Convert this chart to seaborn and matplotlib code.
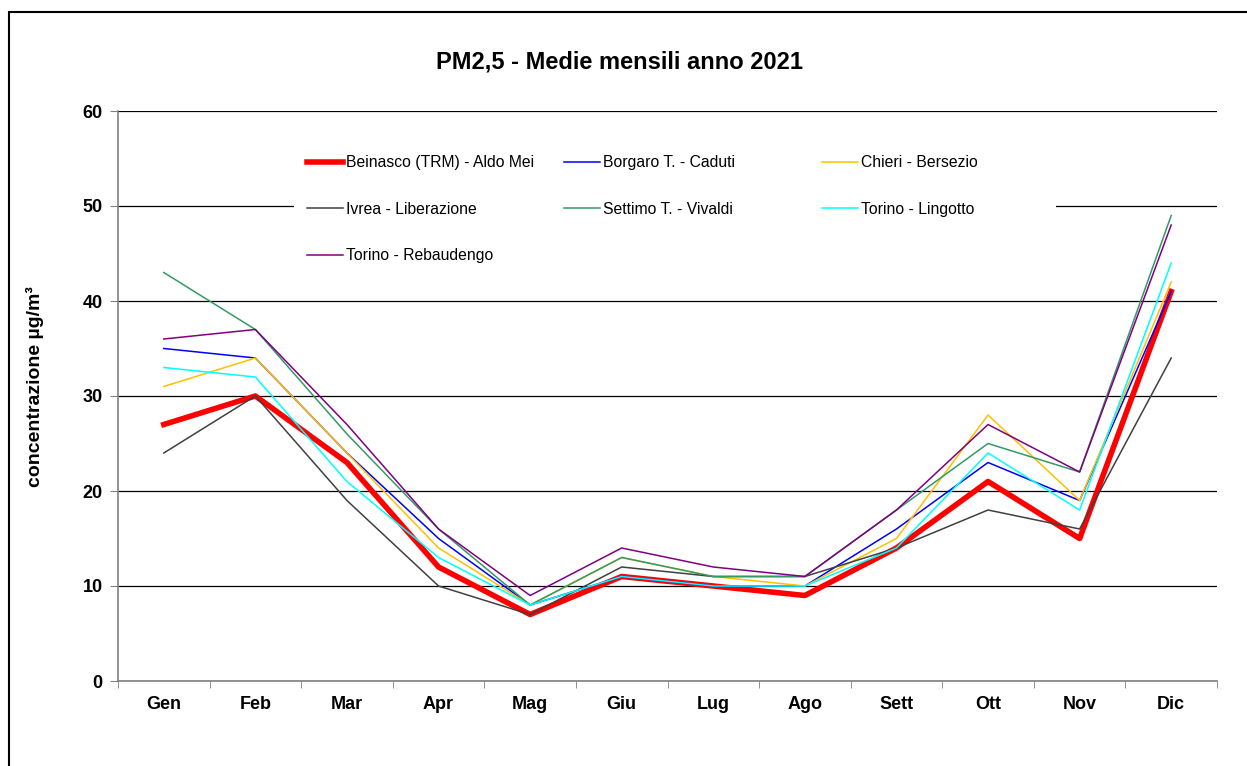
import numpy as np
import pandas as pd
import seaborn as sns
import matplotlib.pyplot as plt
from matplotlib.patches import Rectangle

mesi = ["Gen", "Feb", "Mar", "Apr", "Mag", "Giu", "Lug", "Ago", "Sett", "Ott", "Nov", "Dic"]

stazioni = [
    "Beinasco (TRM) - Aldo Mei",
    "Borgaro T. - Caduti",
    "Chieri - Bersezio",
    "Ivrea - Liberazione",
    "Settimo T. - Vivaldi",
    "Torino - Lingotto",
    "Torino - Rebaudengo",
]

beinasco = [27, 30, 23, 12, 7, 11, 10, 9, 14, 21, 15, 41]
borgaro = [35, 34, 24, 15, 8, 11, 10, 10, 16, 23, 19, 41]
chieri = [31, 34, 24, 14, 8, 13, 11, 10, 15, 28, 19, 42]
ivrea = [24, 30, 19, 10, 7, 12, 11, 11, 14, 18, 16, 34]
settimo = [43, 37, 26, 16, 8, 13, 11, 11, 18, 25, 22, 49]
lingotto = [33, 32, 21, 13, 8, 11, 10, 10, 14, 24, 18, 44]
rebaudengo = [36, 37, 27, 16, 9, 14, 12, 11, 18, 27, 22, 48]

colori = ["#FF0000", "#0000FF", "#FFC000", "#404040", "#339966", "#00FFFF", "#800080"]
spessori = [4.0, 1.1, 1.1, 1.1, 1.1, 1.1, 1.1]

valori = [beinasco, borgaro, chieri, ivrea, settimo, lingotto, rebaudengo]
df = pd.DataFrame({
    "mese": mesi * len(stazioni),
    "stazione": np.repeat(stazioni, len(mesi)),
    "valore": np.concatenate(valori),
})

plt.rcParams["font.family"] = ["Liberation Sans", "DejaVu Sans"]

fig = plt.figure(figsize=(12.47, 7.66), dpi=100)
ax = fig.add_axes([118 / 1247, 85 / 766, 1099 / 1247, 570 / 766])

sns.lineplot(data=df, x="mese", y="valore", hue="stazione", hue_order=stazioni,
             palette=colori, size="stazione", size_order=stazioni,
             sizes=dict(zip(stazioni, spessori)), sort=False, ax=ax)

ax.set_xlim(-0.5, 11.5)
ax.set_ylim(0, 60)
ax.set_yticks(range(0, 61, 10))
ax.set_xticks(np.arange(-0.5, 12, 1), minor=True)
ax.tick_params(axis="x", which="major", length=0, pad=11)
ax.tick_params(axis="x", which="minor", length=5, color="#808080", direction="out")
ax.tick_params(axis="y", length=6, color="#808080", pad=5)
for lab in ax.get_xticklabels() + ax.get_yticklabels():
    lab.set_fontweight("bold")
    lab.set_fontsize(13)

ax.grid(axis="y", color="#000000", linewidth=0.9)
ax.set_axisbelow(True)
for side in ["top", "right"]:
    ax.spines[side].set_visible(False)
for side in ["left", "bottom"]:
    ax.spines[side].set_color("#808080")
    ax.spines[side].set_linewidth(1.2)

ax.set_xlabel("")
ax.set_ylabel("concentrazione µg/m³", fontsize=14, fontweight="bold")
ax.yaxis.set_label_coords(-0.0675, 0.517)

# legend: three columns, row-wise order (col 2 and 3 padded to match the wide boxes)
handles, labels = ax.get_legend_handles_labels()
lookup = dict(zip(labels, handles))
idx = [0, 3, 6, 1, 4, 2, 5]
pad = {1: " " * 13, 4: " " * 13, 2: " " * 15, 5: " " * 15}
ordine = [stazioni[i] for i in idx]
testi = [stazioni[i] + pad.get(i, "") for i in idx]
leg = ax.legend([lookup[s] for s in ordine], testi, ncol=3, loc="upper left",
                bbox_to_anchor=(0.153, 0.958), fontsize=11.3, frameon=True,
                facecolor="white", edgecolor="none", framealpha=1, fancybox=False,
                handlelength=2.3, handletextpad=0.2, labelspacing=2.0,
                columnspacing=1.9, borderpad=0.8)
for line, s in zip(leg.get_lines(), ordine):
    line.set_linewidth(4.0 if s == stazioni[0] else 1.1)

fig.text(0.497, 0.919, "PM2,5 - Medie mensili anno 2021", ha="center", va="center",
         fontsize=17, fontweight="bold")

fig.add_artist(Rectangle((9 / 1247, -0.5), 1.5, 1.5 - 12 / 766, transform=fig.transFigure,
                         fill=False, edgecolor="black", linewidth=1.5))

fig.savefig("out.png", dpi=100, facecolor="white")
